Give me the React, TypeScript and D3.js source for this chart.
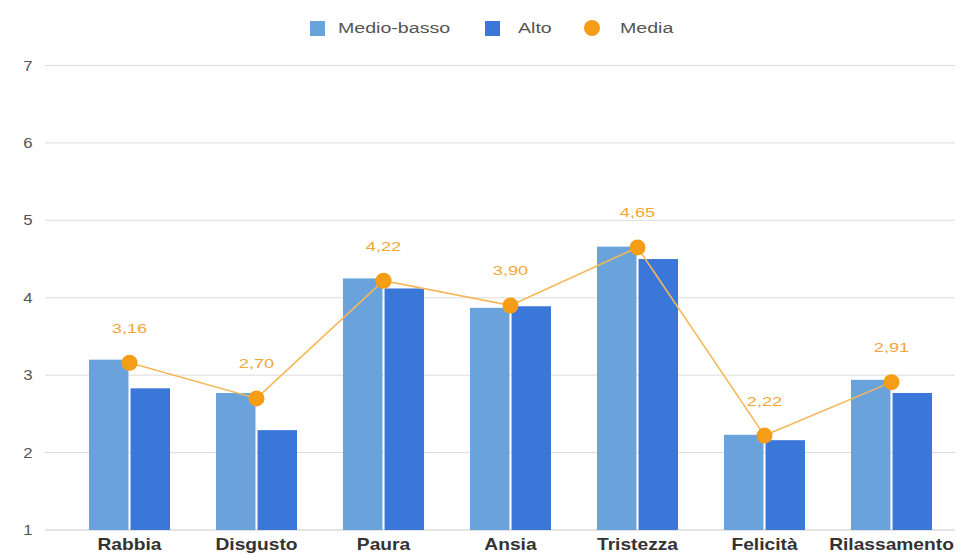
import React from "react";
import * as d3 from "d3";

const categories = ["Rabbia", "Disgusto", "Paura", "Ansia", "Tristezza", "Felicità", "Rilassamento"];
const medioBasso = [3.2, 2.77, 4.25, 3.87, 4.66, 2.23, 2.94];
const alto = [2.83, 2.29, 4.12, 3.89, 4.5, 2.16, 2.77];
const media = [3.16, 2.7, 4.22, 3.9, 4.65, 2.22, 2.91];
const yTicks = [1, 2, 3, 4, 5, 6, 7];
const seriesNames = ["Medio-basso", "Alto", "Media"];

const W = 963;
const H = 557;
const C_LIGHT = "#6aa3dc";
const C_DARK = "#3b77d9";
const C_DOT = "#f59d14";
const C_LINE = "#f6b758";
const C_LABEL = "#f3a53a";
const FONT = "'Liberation Sans', Arial, sans-serif";

export default function App() {
  const x0 = d3.scaleBand<string>().domain(categories).range([66, 955]).paddingInner(0.362).paddingOuter(0.181);
  const x1 = d3.scaleBand<string>().domain(["mb", "al"]).range([0, x0.bandwidth()]).paddingInner(0.05);
  const y = d3.scaleLinear().domain([1, 7]).range([530, 65.5]);
  const fmt = (v: number) => d3.format(".2f")(v).replace(".", ",");
  const cx = (c: string) => (x0(c) as number) + x0.bandwidth() / 2;
  const line = d3
    .line<number>()
    .x((_, i) => cx(categories[i]))
    .y((d) => y(d));

  return (
    <svg width={W} height={H} style={{ position: "absolute", left: 0, top: 0, background: "#fff" }} fontFamily={FONT}>
      {/* grid */}
      {yTicks.map((t) => (
        <g key={t}>
          <line x1={45} x2={955} y1={y(t)} y2={y(t)} stroke={t === 1 ? "#c8c8c8" : "#dcdcdc"} strokeWidth={1} />
          <text transform={`translate(28,${y(t) + 5}) scale(1.2,1)`} textAnchor="middle" fontSize={14} fill="#555">
            {t}
          </text>
        </g>
      ))}
      {/* bars */}
      {categories.map((c, i) => (
        <g key={c}>
          <rect
            x={(x0(c) as number) + (x1("mb") as number)}
            y={y(medioBasso[i])}
            width={x1.bandwidth()}
            height={y(1) - y(medioBasso[i])}
            fill={C_LIGHT}
          />
          <rect
            x={(x0(c) as number) + (x1("al") as number)}
            y={y(alto[i])}
            width={x1.bandwidth()}
            height={y(1) - y(alto[i])}
            fill={C_DARK}
          />
          <text
            transform={`translate(${cx(c)},${550}) scale(1.2,1)`}
            textAnchor="middle"
            fontSize={16}
            fontWeight="bold"
            fill="#333"
          >
            {c}
          </text>
        </g>
      ))}
      {/* line */}
      <path d={line(media) as string} fill="none" stroke={C_LINE} strokeWidth={1.6} />
      {media.map((v, i) => (
        <g key={i}>
          <circle cx={cx(categories[i])} cy={y(v)} r={8} fill={C_DOT} />
          <text
            transform={`translate(${cx(categories[i])},${y(v) - 30}) scale(1.4,1)`}
            textAnchor="middle"
            fontSize={13}
            fill={C_LABEL}
          >
            {fmt(v)}
          </text>
        </g>
      ))}
      {/* legend */}
      <g>
        <rect x={310} y={21} width={15} height={15} fill={C_LIGHT} />
        <text transform={`translate(338,33) scale(1.4,1)`} fontSize={14} fill="#555">
          {seriesNames[0]}
        </text>
        <rect x={485} y={21} width={15} height={15} fill={C_DARK} />
        <text transform={`translate(518,33) scale(1.4,1)`} fontSize={14} fill="#555">
          {seriesNames[1]}
        </text>
        <circle cx={592} cy={28} r={8} fill={C_DOT} />
        <text transform={`translate(620,33) scale(1.4,1)`} fontSize={14} fill="#555">
          {seriesNames[2]}
        </text>
      </g>
    </svg>
  );
}
